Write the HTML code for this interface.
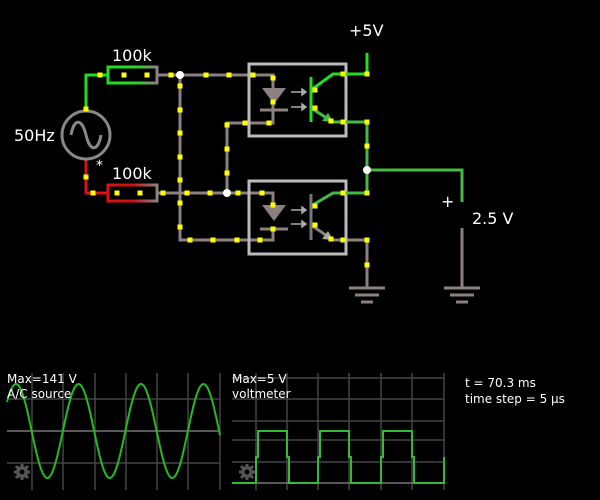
<!DOCTYPE html>
<html><head><meta charset="utf-8"><style>
html,body{margin:0;padding:0;background:#000;width:600px;height:500px;overflow:hidden}
svg{display:block}
text{font-family:"DejaVu Sans","Liberation Sans",sans-serif;fill:#fff}
</style></head><body>
<svg id="s" width="600" height="500" viewBox="0 0 600 500" xmlns="http://www.w3.org/2000/svg">
<rect width="600" height="500" fill="#000"/>
<g stroke="#8c8080" stroke-width="3" fill="none" stroke-linejoin="miter">
<polyline points="157,75 273,75 273,88"/>
<polyline points="180,75 180,240 273,240 273,229"/>
<polyline points="273,103 273,123 227,123 227,193"/>
<polyline points="157,193 273,193 273,205"/>
<line x1="260" y1="110" x2="288" y2="110"/>
<line x1="260" y1="229" x2="288" y2="229"/>
<polyline points="311,225 333,240 367,240 367,288"/>
<line x1="462" y1="228" x2="462" y2="288"/>
<line x1="349" y1="288" x2="385" y2="288"/>
<line x1="355" y1="295" x2="379" y2="295"/>
<line x1="361" y1="302" x2="373" y2="302"/>
<line x1="444" y1="288" x2="480" y2="288"/>
<line x1="450" y1="295" x2="474" y2="295"/>
<line x1="456" y1="302" x2="468" y2="302"/>
</g>
<polygon points="262,88 286,88 274,104" fill="#8c8080"/>
<polygon points="262,205 286,205 274,221" fill="#8c8080"/>
<rect x="249" y="64" width="97" height="72" fill="none" stroke="#bbb" stroke-width="3"/>
<rect x="249" y="181" width="97" height="73" fill="none" stroke="#bbb" stroke-width="3"/>
<g stroke="#aaa" stroke-width="1.5" fill="#aaa">
<line x1="291" y1="92" x2="302" y2="92"/><polygon points="302,89 306,92 302,95"/>
<line x1="291" y1="107" x2="302" y2="107"/><polygon points="302,104 306,107 302,110"/>
<line x1="291" y1="210" x2="302" y2="210"/><polygon points="302,207 306,210 302,213"/>
<line x1="291" y1="224" x2="302" y2="224"/><polygon points="302,221 306,224 302,227"/>
</g>
<g stroke="#22dd22" stroke-width="3" fill="none">
<polyline points="86,110 86,75 107,75"/>
<line x1="311" y1="77" x2="311" y2="122"/>
<polyline points="311,90 333,74 367,74 367,53"/>
</g>
<g stroke="#44bb44" stroke-width="3" fill="none">
<polyline points="311,108 333,122 367,122 367,170 462,170 462,202"/>
<polyline points="311,206 333,193 367,193 367,170"/>
</g>
<line x1="311" y1="194" x2="311" y2="240" stroke="#777" stroke-width="3"/>
<polygon points="333,122 322,121 328,113" fill="#44bb44"/>
<polygon points="333,240 322,239 328,231" fill="#aaa"/>
<g stroke="#dd1111" stroke-width="3" fill="none"><polyline points="86,160 86,193 107,193"/></g>
<defs>
<linearGradient id="gt" x1="0" x2="1"><stop offset="0" stop-color="#22dd22"/><stop offset="0.5" stop-color="#22dd22"/><stop offset="1" stop-color="#8c8080"/></linearGradient>
<linearGradient id="rt" x1="0" x2="1"><stop offset="0" stop-color="#dd1111"/><stop offset="0.5" stop-color="#cc1111"/><stop offset="1" stop-color="#8c8080"/></linearGradient>
</defs>
<rect x="108" y="67" width="49" height="16" fill="none" stroke="url(#gt)" stroke-width="3"/>
<rect x="108" y="185" width="49" height="16" fill="none" stroke="url(#rt)" stroke-width="3"/>
<circle cx="86" cy="135" r="24" fill="none" stroke="#888" stroke-width="3"/>
<path d="M71,135 C74,118 82,118 86,135 C90,152 98,152 101,135" fill="none" stroke="#888" stroke-width="3"/>
<g fill="#fff"><circle cx="180" cy="75" r="4"/><circle cx="227" cy="193" r="4"/><circle cx="367" cy="170" r="4"/></g>
<g id="dots" fill="#ffff00"></g>
<text x="112" y="61" font-size="16">100k</text>
<text x="112" y="179" font-size="16">100k</text>
<text x="14" y="141" font-size="16">50Hz</text>
<text x="96" y="170" font-size="14">*</text>
<text x="349" y="36" font-size="16">+5V</text>
<text x="441" y="207" font-size="16">+</text>
<text x="472" y="224" font-size="16">2.5 V</text>
<g stroke="#444" stroke-width="1.5" id="grid"></g>
<path id="sine" fill="none" stroke="#22bb22" stroke-width="2"/>
<polyline fill="none" stroke="#33bb33" stroke-width="2" points="232,483 256,483 256,457 258,457 258,431 287,431 287,457 289,457 289,483 318,483 318,457 320,457 320,431 349,431 349,457 351,457 351,483 381,483 381,457 383,457 383,431 412,431 412,457 414,457 414,483 444,483 444,457"/>
<g font-size="12"><text x="7" y="383">Max=141 V</text><text x="7" y="398">A/C source</text>
<text x="232" y="383">Max=5 V</text><text x="232" y="398">voltmeter</text>
<text x="465" y="387">t = 70.3 ms</text><text x="465" y="403">time step = 5 μs</text></g>
<g stroke="#555" stroke-width="3">
<g transform="translate(22,472)"><line x1="-8" y1="0" x2="8" y2="0"/><line x1="0" y1="-8" x2="0" y2="8"/><line x1="-6" y1="-6" x2="6" y2="6"/><line x1="-6" y1="6" x2="6" y2="-6"/></g>
<g transform="translate(247,472)"><line x1="-8" y1="0" x2="8" y2="0"/><line x1="0" y1="-8" x2="0" y2="8"/><line x1="-6" y1="-6" x2="6" y2="6"/><line x1="-6" y1="6" x2="6" y2="-6"/></g>
</g>
<g fill="#555"><circle cx="22" cy="472" r="6"/><circle cx="247" cy="472" r="6"/></g>
<g fill="#000"><circle cx="22" cy="472" r="2.5"/><circle cx="247" cy="472" r="2.5"/></g>
</svg>
<script>
var NS="http://www.w3.org/2000/svg";
var d=document.getElementById('dots');
[[100,75],[124,75],[147,75],[171,75],[206,75],[229,75],[253,75],[273,78],[273,102],[245,123],[269,123],[227,125],[227,149],[227,173],
[163,193],[187,193],[210,193],[238,193],[262,193],[273,205],[180,86],[180,110],[180,133],[180,157],[180,180],[180,203],[180,227],
[190,240],[213,240],[237,240],[260,240],[273,229],[86,109],[86,177],[93,193],[117,193],[140,193],
[315,90],[315,108],[331,121],[343,122],[367,122],[367,146],[343,74],[367,74],[315,206],[315,225],[331,239],[343,240],[367,240],[367,265],[343,193],[367,193]
].forEach(function(p){var r=document.createElementNS(NS,'rect');r.setAttribute('x',p[0]-2.5);r.setAttribute('y',p[1]-2.5);r.setAttribute('width',5);r.setAttribute('height',5);d.appendChild(r);});
var g=document.getElementById('grid');
function ln(a,b,c,e,col){var l=document.createElementNS(NS,'line');l.setAttribute('x1',a);l.setAttribute('y1',b);l.setAttribute('x2',c);l.setAttribute('y2',e);if(col)l.setAttribute('stroke',col);g.appendChild(l);}
[32,63,95,126,157,188,220].forEach(function(x){ln(x,373,x,490);});
[399,463].forEach(function(y){ln(7,y,220,y);});ln(7,431,220,431,'#777');
[256,287,318,349,381,412,444].forEach(function(x){ln(x,373,x,490);});
[378,399,421,440,462].forEach(function(y){ln(232,y,444,y);});ln(232,483,444,483,'#777');
var s='';for(var x=7;x<=220;x+=1){var y=431-47*Math.cos(2*Math.PI*(x-16)/62.5);s+=(x==7?'M':'L')+x+','+y.toFixed(1);}
document.getElementById('sine').setAttribute('d',s);
</script>
</body></html>
